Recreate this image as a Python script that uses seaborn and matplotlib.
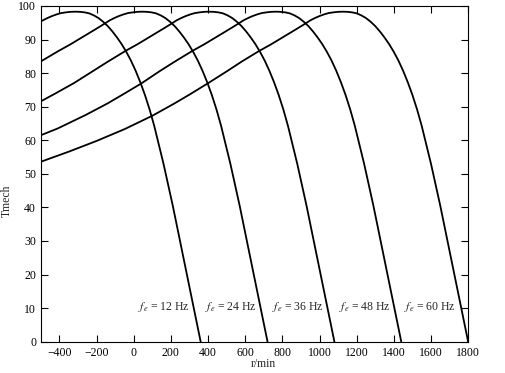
import matplotlib
matplotlib.use("Agg")
import matplotlib.pyplot as plt
import seaborn as sns
import pandas as pd

# torque-speed curves, one pair of lists per frequency
speed_12 = [360, 310, 260, 210, 160, 110, 85, 60, 35, 10, -15, -40, -65, -90, -115, -140, -165, -190,
            -215, -240, -265, -290, -315, -340, -365, -390, -415, -440, -465, -490, -515]
torque_12 = [0, 13.5, 27, 40.5, 53, 64.3, 69.2, 73.5, 77.3, 80.7, 83.7, 86.3, 88.6, 90.6, 92.4, 94.0, 95.3, 96.4,
             97.2, 97.8, 98.1, 98.25, 98.3, 98.25, 98.1, 97.9, 97.5, 97.0, 96.4, 95.7, 95.0]

speed_24 = [720, 670, 620, 570, 520, 470, 445, 420, 395, 370, 345, 320, 295, 270, 245, 220, 195, 170,
            145, 120, 95, 70, 45, 20, -5, -30, -55, -80, -105, -130, -155, -205, -280, -340, -405, -500]
torque_24 = [0, 13.5, 27, 40.5, 53, 64.3, 69.2, 73.5, 77.3, 80.7, 83.7, 86.3, 88.6, 90.6, 92.4, 94.0, 95.3, 96.4,
             97.2, 97.8, 98.1, 98.25, 98.3, 98.25, 98.1, 97.9, 97.5, 97.0, 96.4, 95.7, 94.8, 93.1, 90.6, 88.6, 86.6, 83.5]

speed_36 = [1080, 1030, 980, 930, 880, 830, 805, 780, 755, 730, 705, 680, 655, 630, 605, 580, 555, 530,
            505, 480, 455, 430, 405, 380, 355, 330, 305, 280, 255, 230, 205, 155, 80, 20, -45, -140, -220,
            -320, -420, -500]
torque_36 = [0, 13.5, 27, 40.5, 53, 64.3, 69.2, 73.5, 77.3, 80.7, 83.7, 86.3, 88.6, 90.6, 92.4, 94.0, 95.3, 96.4,
             97.2, 97.8, 98.1, 98.25, 98.3, 98.25, 98.1, 97.9, 97.5, 97.0, 96.4, 95.7, 94.8, 93.1, 90.6, 88.6,
             86.6, 83.4, 80.6, 77.1, 74.0, 71.6]

speed_48 = [1440, 1390, 1340, 1290, 1240, 1190, 1165, 1140, 1115, 1090, 1065, 1040, 1015, 990, 965, 940, 915,
            890, 865, 840, 815, 790, 765, 740, 715, 690, 665, 640, 615, 590, 565, 515, 440, 380, 315, 220,
            140, 40, -60, -140, -260, -410, -500]
torque_48 = [0, 13.5, 27, 40.5, 53, 64.3, 69.2, 73.5, 77.3, 80.7, 83.7, 86.3, 88.6, 90.6, 92.4, 94.0, 95.3,
             96.4, 97.2, 97.8, 98.1, 98.25, 98.3, 98.25, 98.1, 97.9, 97.5, 97.0, 96.4, 95.7, 94.8, 93.1, 90.6,
             88.6, 86.6, 83.4, 80.6, 76.9, 73.6, 71.0, 67.5, 63.5, 61.5]

speed_60 = [1800, 1750, 1700, 1650, 1600, 1550, 1525, 1500, 1475, 1450, 1425, 1400, 1375, 1350, 1325, 1300,
            1275, 1250, 1225, 1200, 1175, 1150, 1125, 1100, 1075, 1050, 1025, 1000, 975, 950, 925, 875, 800,
            740, 675, 580, 500, 400, 300, 220, 100, -50, -200, -350, -500]
torque_60 = [0, 13.5, 27, 40.5, 53, 64.3, 69.2, 73.5, 77.3, 80.7, 83.7, 86.3, 88.6, 90.6, 92.4, 94.0,
             95.3, 96.4, 97.2, 97.8, 98.1, 98.25, 98.3, 98.25, 98.1, 97.9, 97.5, 97.0, 96.4, 95.7, 94.8, 93.1,
             90.6, 88.6, 86.6, 83.4, 80.5, 77.0, 73.6, 71.0, 67.3, 63.3, 59.8, 56.6, 53.6]

freqs = [12, 24, 36, 48, 60]
label_x = [25, 385, 745, 1105, 1455]

curves = {12: (speed_12, torque_12), 24: (speed_24, torque_24), 36: (speed_36, torque_36),
          48: (speed_48, torque_48), 60: (speed_60, torque_60)}
rows = []
for f, (s, t) in curves.items():
    for a, b in zip(s, t):
        rows.append({"speed": a, "torque": b, "freq": f})
df = pd.DataFrame(rows)

sns.set_style("ticks")
plt.rcParams["font.family"] = ["Liberation Serif", "DejaVu Serif"]
plt.rcParams["mathtext.fontset"] = "stix"

fig = plt.figure(figsize=(5.05, 3.73), dpi=100)
ax = fig.add_axes([0.081, 0.084, 0.846, 0.900])

sns.lineplot(data=df, x="speed", y="torque", hue="freq", palette=["black"] * 5,
             estimator=None, sort=True, legend=False, linewidth=1.3, ax=ax)

for f, lx in zip(freqs, label_x):
    ax.text(lx, 10.4, r"$f_e$ = %d Hz" % f, ha="left", va="center", fontsize=8.5)

ax.set_xlim(-500, 1800)
ax.set_ylim(0, 100)
ax.set_xticks(range(-400, 1801, 200))
ax.set_yticks(range(0, 101, 10))
ax.tick_params(direction="in", length=5, width=0.8, top=True, right=True, labelsize=8.5, colors="black")
for sp in ax.spines.values():
    sp.set_visible(True)
    sp.set_color("black")
    sp.set_linewidth(0.8)
ax.set_xlabel("r/min", fontsize=8.5)
ax.xaxis.set_label_coords(0.52, -0.048)
ax.set_ylabel("Tmech", fontsize=8.5)
ax.yaxis.set_label_coords(-0.065, 0.42)

fig.savefig("out.png", dpi=100)
